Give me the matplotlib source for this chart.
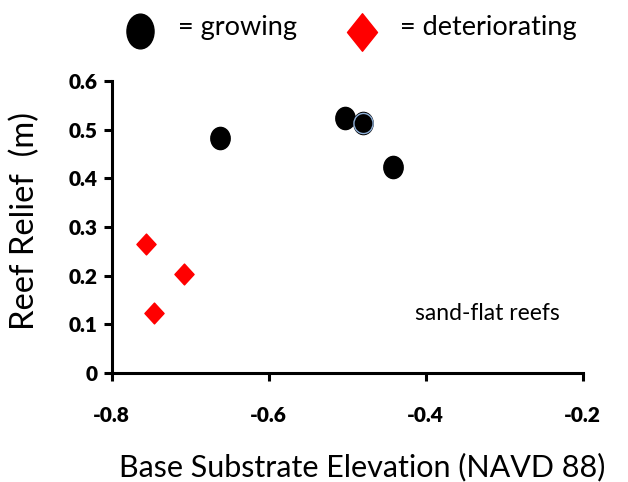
import numpy as np
import matplotlib
matplotlib.use('Agg')
import matplotlib.pyplot as plt
from matplotlib.path import Path

plt.rcParams['font.family'] = ['Lato', 'DejaVu Sans']

# growing reefs
grow_x = [-0.662, -0.503, -0.480, -0.442]
grow_y = [0.483, 0.523, 0.513, 0.424]
# deteriorating reefs
det_x = [-0.757, -0.708, -0.746]
det_y = [0.265, 0.203, 0.123]

x_ticks = [-0.8, -0.6, -0.4, -0.2]
y_ticks = [0, 0.1, 0.2, 0.3, 0.4, 0.5, 0.6]


def ellipse_marker(ratio):
    c = Path.unit_circle()
    return Path(c.vertices * np.array([ratio, 1.0]), c.codes)


def diamond_marker(ratio):
    return Path([(0, 1), (ratio, 0), (0, -1), (-ratio, 0), (0, 1)],
                [Path.MOVETO, Path.LINETO, Path.LINETO, Path.LINETO, Path.CLOSEPOLY])


fig = plt.figure(figsize=(6.28, 4.82), dpi=100)
ax = fig.add_axes([0.178, 0.226, 0.75, 0.606])

ax.plot(grow_x, grow_y, linestyle='none', marker=ellipse_marker(0.87), markersize=16,
        color='black', markeredgecolor='black')
# one point has a faint blue outline in the original
ax.plot(grow_x[2], grow_y[2], linestyle='none', marker=ellipse_marker(0.95), markersize=14.5,
        color='black', markeredgecolor='#8fb0d8', markeredgewidth=1.0)
ax.plot(det_x, det_y, linestyle='none', marker=diamond_marker(0.92), markersize=15,
        color='red', markeredgecolor='red')

ax.set_xlim(-0.8, -0.2)
ax.set_ylim(0, 0.6)
ax.set_xticks(x_ticks)
ax.set_yticks(y_ticks)
ax.set_xticklabels(['-0.8', '-0.6', '-0.4', '-0.2'], fontweight='heavy', fontsize=15)
ax.set_yticklabels(['0', '0.1', '0.2', '0.3', '0.4', '0.5', '0.6'], fontweight='heavy', fontsize=15)
for s in ['top', 'right']:
    ax.spines[s].set_visible(False)
for s in ['left', 'bottom']:
    ax.spines[s].set_linewidth(2.2)
ax.tick_params(axis='both', direction='out', length=6, width=2.2, pad=4)
ax.tick_params(axis='x', pad=18)

ax.set_xlabel('Base Substrate Elevation (NAVD 88)', fontsize=22)
ax.set_ylabel('Reef Relief  (m)', fontsize=23.5)
ax.xaxis.label.set_va('center')
ax.yaxis.label.set_va('center')
ax.xaxis.set_label_coords(0.531, -0.322)
ax.yaxis.set_label_coords(-0.185, 0.52)

ax.text(-0.414, 0.123, 'sand-flat reefs', fontsize=16.5, va='center', ha='left')

# legend drawn by hand at top
fig.add_artist(plt.Line2D([140 / 628], [1 - 31 / 482], transform=fig.transFigure,
                          marker=ellipse_marker(0.78), markersize=25, color='black', linestyle='none'))
fig.text(178 / 628, 1 - 27 / 482, '= growing', fontsize=19.5, va='center', ha='left')
fig.add_artist(plt.Line2D([362 / 628], [1 - 32 / 482], transform=fig.transFigure,
                          marker=diamond_marker(0.8), markersize=27, color='red', linestyle='none'))
fig.text(400 / 628, 1 - 27 / 482, '= deteriorating', fontsize=19.5, va='center', ha='left')

fig.savefig('out.png', dpi=100)
